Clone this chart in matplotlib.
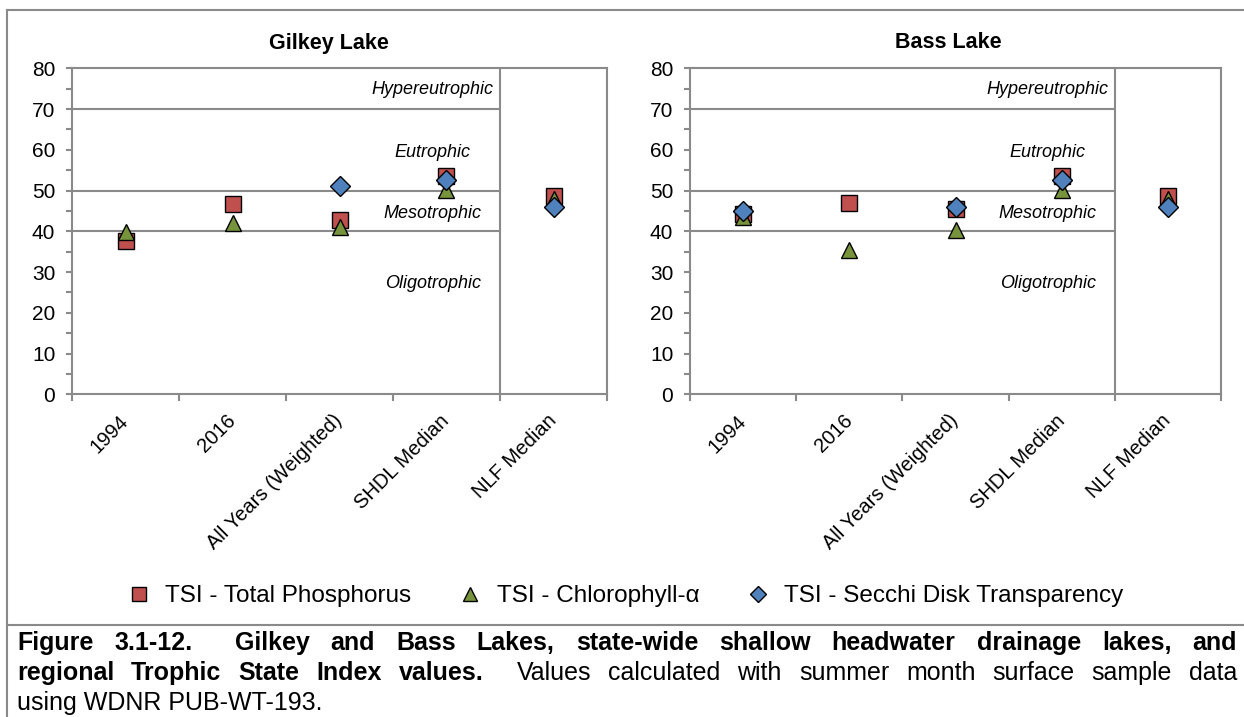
import matplotlib
matplotlib.use('Agg')
import matplotlib.pyplot as plt
from matplotlib.lines import Line2D
from matplotlib.ticker import MultipleLocator, FixedLocator
import numpy as np

plt.rcParams['font.family'] = ['Liberation Sans', 'DejaVu Sans']

# ---------------- data ----------------
categories = ['1994', '2016', 'All Years (Weighted)', 'SHDL Median', 'NLF Median']
gilkey_tp = [37.5, 46.6, 42.7, 53.6, 48.6]
gilkey_chl = [39.9, 42.1, 41.0, 50.1, 47.9]
gilkey_secchi = [np.nan, np.nan, 51.1, 52.5, 46.0]
bass_tp = [44.2, 47.0, 45.5, 53.6, 48.6]
bass_chl = [43.5, 35.5, 40.4, 50.1, 47.9]
bass_secchi = [45.0, np.nan, 46.0, 52.5, 46.0]

zone_bounds = [40, 50, 70]
zone_names = ['Hypereutrophic', 'Eutrophic', 'Mesotrophic', 'Oligotrophic']
zone_label_y = [74.7, 59.4, 44.3, 27.1]

series_names = ['TSI - Total Phosphorus', 'TSI - Chlorophyll-α', 'TSI - Secchi Disk Transparency']
series_colors = ['#C0504D', '#77933C', '#4F81BD']
series_markers = ['s', '^', 'D']
series_sizes = [11.5, 11.5, 10.0]

# ---------------- figure ----------------
W, H = 1244, 717
fig = plt.figure(figsize=(W / 100, H / 100), dpi=100)
GREY = '#8a8a8a'

def px_axes(x0, x1, ytop, ybot):
    return [x0 / W, 1 - ybot / H, (x1 - x0) / W, (ybot - ytop) / H]

ax1 = fig.add_axes(px_axes(72, 607, 68.3, 394.3))
ax2 = fig.add_axes(px_axes(690, 1221, 68.3, 394.3))

x = np.arange(len(categories))

def style_axis(ax, tp, chl, secchi):
    ax.set_xlim(-0.5, len(categories) - 0.5)
    ax.set_ylim(0, 80)
    for sp in ax.spines.values():
        sp.set_color(GREY)
        sp.set_linewidth(1.5)
    ax.hlines(zone_bounds, -0.5, 3.5, colors=GREY, linewidth=1.5, zorder=1)
    ax.axvline(3.5, color=GREY, linewidth=1.5, zorder=1)

    ax.yaxis.set_major_locator(MultipleLocator(10))
    ax.yaxis.set_minor_locator(MultipleLocator(5))
    ax.tick_params(axis='y', which='both', direction='out', length=4, width=1.5,
                   color=GREY, labelsize=15, pad=8)

    ax.set_xticks(x)
    ax.set_xticklabels(categories)
    ax.xaxis.set_minor_locator(FixedLocator(np.arange(-0.5, len(categories), 1.0)))
    ax.tick_params(axis='x', which='major', length=0, labelsize=14.5, pad=17)
    ax.tick_params(axis='x', which='minor', direction='out', length=5, width=1.5, color=GREY)
    plt.setp(ax.get_xticklabels(), rotation=45, ha='right', va='center',
             rotation_mode='anchor')

    for vals, c, m, s in zip([tp, chl, secchi], series_colors, series_markers, series_sizes):
        ax.plot(x, vals, linestyle='none', marker=m, markersize=s, markerfacecolor=c,
                markeredgecolor='black', markeredgewidth=1.0, zorder=3, clip_on=False)

    for name, yy in zip(zone_names, zone_label_y):
        ax.text(2.87, yy, name, ha='center', va='center', fontsize=13, style='italic')

style_axis(ax1, gilkey_tp, gilkey_chl, gilkey_secchi)
style_axis(ax2, bass_tp, bass_chl, bass_secchi)

fig.text(329 / W, 1 - 43 / H, 'Gilkey Lake', ha='center', va='center',
         fontsize=15.5, fontweight='bold')
fig.text(948 / W, 1 - 43 / H, 'Bass Lake', ha='center', va='center',
         fontsize=15.5, fontweight='bold')

# legend
handles = [Line2D([], [], linestyle='none', marker=m, markersize=s * 0.85,
                  markerfacecolor=c, markeredgecolor='black', markeredgewidth=1.0)
           for c, m, s in zip(series_colors, series_markers, series_sizes)]
fig.legend(handles, series_names, loc='center', bbox_to_anchor=(625 / W, 1 - 596 / H),
           ncol=3, frameon=False, fontsize=17.5, handlelength=1.0,
           handletextpad=0.6, columnspacing=1.9)

# outer box lines
def fig_line(xs, ys):
    fig.add_artist(Line2D([v / W for v in xs], [1 - v / H for v in ys],
                          color=GREY, linewidth=1.5))

fig_line([7, 7], [10, 717])
fig_line([7, 1244], [10, 10])
fig_line([7, 1244], [625, 625])

# caption
renderer = fig.canvas.get_renderer()
CAP_FS = 18

def justified_line(words, gap_weights, y, x0, x1):
    objs, widths = [], []
    for w, wt in words:
        t = fig.text(0, 1 - y / H, w, fontsize=CAP_FS, fontweight=wt,
                     ha='left', va='baseline')
        objs.append(t)
        widths.append(t.get_window_extent(renderer).width)
    unit = (x1 - x0 - sum(widths)) / sum(gap_weights)
    xp = x0
    for i, t in enumerate(objs):
        t.set_x(xp / W)
        xp += widths[i]
        if i < len(gap_weights):
            xp += unit * gap_weights[i]

line1 = ['Figure', '3.1-12.', 'Gilkey', 'and', 'Bass', 'Lakes,', 'state-wide', 'shallow',
         'headwater', 'drainage', 'lakes,', 'and']
gaps1 = [1, 2] + [1] * (len(line1) - 3)
justified_line([(w, 'bold') for w in line1], gaps1, 650, 17, 1237)

line2_bold = ['regional', 'Trophic', 'State', 'Index', 'values.']
line2_reg = ['Values', 'calculated', 'with', 'summer', 'month', 'surface', 'sample', 'data']
words2 = [(w, 'bold') for w in line2_bold] + [(w, 'normal') for w in line2_reg]
gaps2 = [1] * (len(line2_bold) - 1) + [2] + [1] * (len(line2_reg) - 1)
justified_line(words2, gaps2, 680, 17, 1237)

fig.text(17 / W, 1 - 710 / H, 'using WDNR PUB-WT-193.', fontsize=CAP_FS,
         ha='left', va='baseline')

fig.savefig('out.png', dpi=100)
